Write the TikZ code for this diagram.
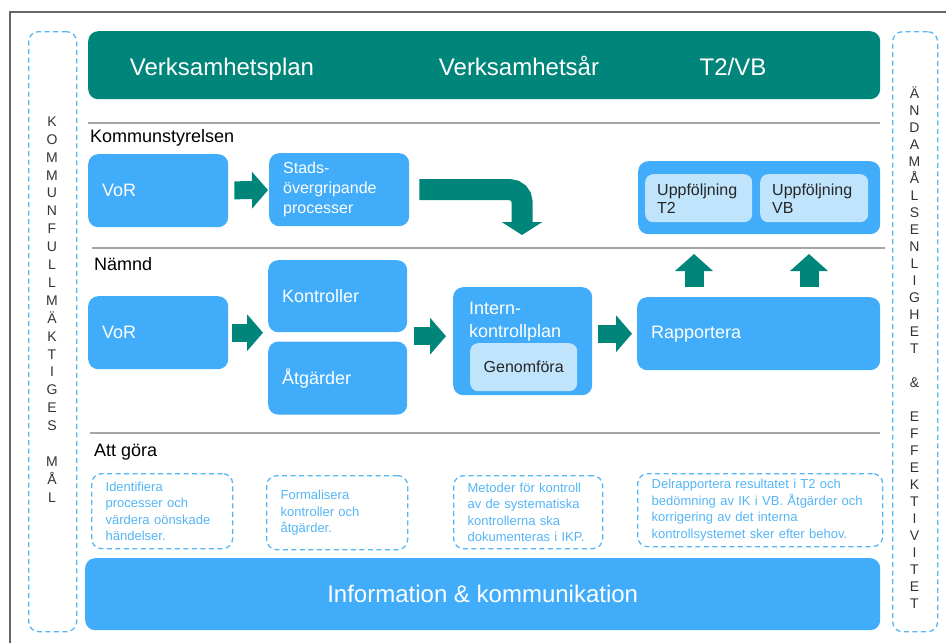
\documentclass[tikz,border=0pt]{standalone}
\usepackage{fontspec}
\setmainfont{Liberation Sans}
\usetikzlibrary{arrows.meta,positioning}
\definecolor{boxblue}{RGB}{64,172,250}
\definecolor{lightblue}{RGB}{192,228,252}
\definecolor{tealband}{RGB}{0,133,122}
\definecolor{dashblue}{RGB}{85,181,245}
\definecolor{rulegray}{RGB}{165,165,165}
\newcommand{\fsz}[2]{\fontsize{#1}{#2}\selectfont}

\begin{document}
\begin{tikzpicture}[x=1pt,y=-1pt,
  blk/.style={fill=boxblue,rounded corners=10pt,text=white,align=left,inner xsep=14pt,inner ysep=0pt,anchor=north west,font=\fsz{18}{22}},
  subbox/.style={fill=lightblue,rounded corners=8pt,text=black!85,align=left,inner xsep=12pt,inner ysep=0pt,anchor=north west,font=\fsz{16}{18}},
  todo/.style={draw=dashblue,line width=1.3pt,dash pattern=on 5pt off 3.5pt,rounded corners=10pt,text=dashblue,align=left,inner xsep=14pt,inner ysep=0pt,anchor=north west,font=\fsz{13}{16.5}},
  sidebox/.style={draw=dashblue,line width=1.3pt,dash pattern=on 5pt off 3.5pt,rounded corners=10pt,anchor=north west,inner sep=0pt},
  vlet/.style={align=center,font=\fsz{14}{17.9},text=black!80,inner sep=0pt},
  rowlab/.style={anchor=base west,inner sep=0pt,font=\fsz{18}{22}},
  bandtext/.style={anchor=base,text=white,font=\fsz{24}{28},inner sep=0pt},
  barrow/.style={draw=tealband,line width=18pt,-{Triangle[length=16pt,width=36pt]}},
  hline/.style={draw=rulegray,line width=1.2pt}]
  \useasboundingbox (0,0) rectangle (946,643);
  % ram
  \draw[black!60,line width=1.5pt] (10,643) -- (10,12) -- (946,12);
  % sidospalter
  \node[sidebox,minimum width=48pt,minimum height=600pt] (kfm) at (28,31) {};
  \node[vlet] (kfmtxt) at (52,309.5) {K\\O\\M\\M\\U\\N\\F\\U\\L\\L\\M\\Ä\\K\\T\\I\\G\\E\\S\\[17.9pt]M\\Å\\L};
  \node[sidebox,minimum width=45pt,minimum height=600pt] (ae) at (892,31) {};
  \node[vlet,font=\fsz{14}{17}] (aetxt) at (914.5,347.5) {Ä\\N\\D\\A\\M\\Å\\L\\S\\E\\N\\L\\I\\G\\H\\E\\T\\[17pt]\&\\[17pt]E\\F\\F\\E\\K\\T\\I\\V\\I\\T\\E\\T};
  % band
  \node[fill=tealband,rounded corners=10pt,minimum width=792pt,minimum height=68pt,anchor=north west,inner sep=0pt] (band) at (88,31) {};
  \node[bandtext] (vplan) at (222,75) {Verksamhetsplan};
  \node[bandtext] (vaar) at (519,75) {Verksamhetsår};
  \node[bandtext] (t2vb) at (733,75) {T2/VB};
  \draw[hline] (88,123) -- (880,123);
  \draw[hline] (92,248) -- (885,248);
  \draw[hline] (90,433) -- (880,433);
  % Kommunstyrelsen
  \node[rowlab] (ks) at (90,142) {Kommunstyrelsen};
  \node[blk,text width=112pt,minimum height=73pt] (vor1) at (88,154) {VoR};
  \node[blk,text width=112pt,minimum height=73pt,font=\fsz{16}{20}] (stads) at (269,153) {Stads-\\övergripande\\processer};
  \node[blk,minimum width=242pt,minimum height=73pt] (uppf) at (638,161) {};
  \node[subbox,text width=83pt,minimum height=48pt] (upt2) at (645,174) {Uppföljning\\T2};
  \node[subbox,text width=84pt,minimum height=48pt] (upvb) at (760,174) {Uppföljning\\VB};
  % Nämnd
  \node[rowlab] (nd) at (94,270) {Nämnd};
  \node[blk,text width=112pt,minimum height=73pt] (vor2) at (88,296) {VoR};
  \node[blk,text width=111pt,minimum height=72pt] (kon) at (268,260) {Kontroller};
  \node[blk,text width=111pt,minimum height=73pt,below=9pt of kon.south west,anchor=north west] (atg) {Åtgärder};
  \node[blk,minimum width=139pt,minimum height=108pt] (ikp) at (453,287) {};
  \node[anchor=north west,inner sep=0pt,text=white,align=left,font=\fsz{18}{23}] (ikptxt) at (469,301.5) {Intern-\\kontrollplan};
  \node[subbox,align=center,minimum width=107pt,minimum height=48pt,inner xsep=0pt] (genf) at (470,343) {Genomföra};
  \node[blk,text width=215pt,minimum height=73pt] (rap) at (637,297) {Rapportera};
  % Att göra
  \node[rowlab] (ag) at (94,456) {Att göra};
  \node[todo,text width=113pt,minimum height=75pt] (t1) at (91,473) {Identifiera\\processer och\\värdera oönskade\\händelser.};
  \node[todo,text width=113pt,minimum height=74pt] (t2) at (266,475) {Formalisera\\kontroller och\\åtgärder.};
  \node[todo,text width=121pt,minimum height=73pt] (t3) at (453,475) {Metoder för kontroll\\av de systematiska\\kontrollerna ska\\dokumenteras i IKP.};
  \node[todo,text width=217pt,minimum height=73pt] (t4) at (637,473) {Delrapportera resultatet i T2 och\\bedömning av IK i VB. Åtgärder och\\korrigering av det interna\\kontrollsystemet sker efter behov.};
  \node[fill=boxblue,rounded corners=10pt,minimum width=795pt,minimum height=72pt,anchor=north west,text=white,font=\fsz{24}{28}] (info) at (85,558) {Information \& kommunikation};
  % pilar
  \coordinate (ksdown) at (522,235);
  \coordinate (up1) at (694,254);
  \coordinate (up2) at (809,254);
  \draw[barrow,shorten <=6pt,shorten >=1pt] (vor1) -- (stads);
  \draw[barrow,line width=21pt,-{Triangle[length=13pt,width=40pt]},rounded corners=12pt,shorten <=10pt] (stads) -| (ksdown);
  \draw[barrow,shorten <=4pt,shorten >=5pt] (vor2.east) -- (vor2.east -| kon.west);
  \draw[barrow,shorten <=7pt,shorten >=7pt] ([yshift=5pt]ikp.west -| kon.east) -- ([yshift=5pt]ikp.west);
  \draw[barrow,shorten <=6pt,shorten >=5pt] (ikp.east |- rap.west) -- (rap.west);
  \draw[barrow,line width=19pt,-{Triangle[length=17pt,width=37pt]},shorten <=10pt] (up1 |- rap.north) -- (up1);
  \draw[barrow,line width=19pt,-{Triangle[length=17pt,width=37pt]},shorten <=10pt] (up2 |- rap.north) -- (up2);
\end{tikzpicture}
\end{document}
